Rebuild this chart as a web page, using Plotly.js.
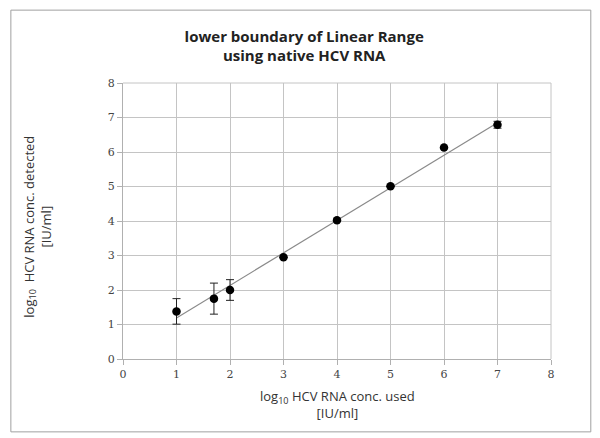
<!DOCTYPE html>
<html><head><meta charset="utf-8">
<script src="https://cdn.plot.ly/plotly-3.0.1.min.js"></script>
<style>body{margin:0;background:#fff}#c{width:600px;height:438px}</style>
</head><body><div id="c"></div>
<script>
// data
const concUsed = [1, 1.7, 2, 3, 4, 5, 6, 7];
const concDetected = [1.38, 1.75, 2.0, 2.95, 4.02, 5.01, 6.13, 6.79];
const errDetected = [0.37, 0.45, 0.3, 0, 0, 0, 0, 0.1];
const fitX = [1, 7];
const fitY = [1.19, 6.85];
const tickVals = [0, 1, 2, 3, 4, 5, 6, 7, 8];

const traces = [
  {x: fitX, y: fitY, mode: 'lines', type: 'scatter',
   line: {color: '#8a8a8a', width: 1.2}, hoverinfo: 'skip'},
  {x: concUsed, y: concDetected, mode: 'markers', type: 'scatter',
   marker: {color: '#000', size: 8.5},
   error_y: {type: 'data', array: errDetected, visible: true, color: '#222', thickness: 1, width: 4}}
];

const axisCommon = {
  range: [0, 8], tickvals: tickVals, showgrid: true, gridcolor: '#c4c4c4', gridwidth: 1,
  zeroline: false, showline: true, linecolor: '#b0b0b0', linewidth: 1,
  ticks: 'outside', ticklen: 5, tickcolor: '#b0b0b0',
  tickfont: {family: 'DejaVu Serif, serif', size: 11, color: '#444'},
  fixedrange: true
};

const layout = {
  width: 600, height: 438,
  margin: {l: 123, r: 49, t: 83, b: 79},
  paper_bgcolor: '#fff', plot_bgcolor: '#fff',
  showlegend: false,
  title: {text: 'lower boundary of Linear Range<br>using native HCV RNA',
          font: {family: 'Open Sans, sans-serif', size: 15, color: '#222', weight: 'bold'},
          x: 0.507, xref: 'container', y: 0.905, yref: 'container', yanchor: 'top'},
  xaxis: Object.assign({}, axisCommon),
  yaxis: Object.assign({}, axisCommon),
  annotations: [
    {text: 'log<sub>10</sub> HCV RNA conc. used<br>[IU/ml]', xref: 'paper', yref: 'paper',
     x: 0.5, y: -0.095, xanchor: 'center', yanchor: 'top', showarrow: false,
     font: {family: 'Open Sans, sans-serif', size: 13, color: '#333'}},
    {text: 'log<sub>10</sub>  HCV RNA conc. detected<br>[IU/ml]', xref: 'paper', yref: 'paper',
     x: -0.155, y: 0.48, xanchor: 'right', yanchor: 'middle', showarrow: false, textangle: -90,
     font: {family: 'Open Sans, sans-serif', size: 13, color: '#333'}}
  ],
  shapes: [
    {type: 'rect', xref: 'paper', yref: 'paper', x0: -0.262, x1: 1.093, y0: -0.264, y1: 1.264,
     line: {color: '#a0a0a0', width: 1}, fillcolor: 'rgba(0,0,0,0)', layer: 'below'},
    {type: 'line', xref: 'paper', yref: 'paper', x0: 1, x1: 1, y0: 0, y1: 1, line: {color: '#c4c4c4', width: 1}},
    {type: 'line', xref: 'paper', yref: 'paper', x0: 0, x1: 1, y0: 1, y1: 1, line: {color: '#c4c4c4', width: 1}}
  ]
};

Plotly.newPlot('c', traces, layout, {staticPlot: true, displayModeBar: false});
</script></body></html>
